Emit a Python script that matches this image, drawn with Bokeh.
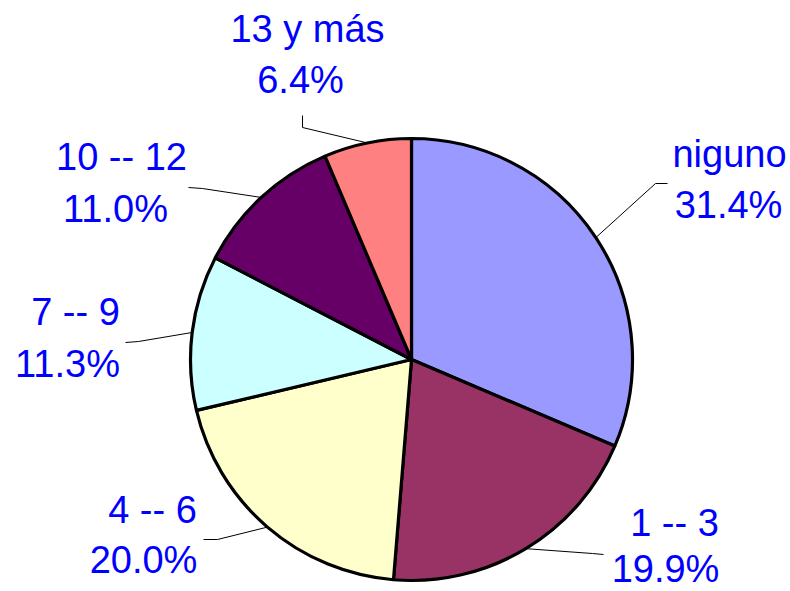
import math
from bokeh.plotting import figure
from bokeh.models import Range1d, ColumnDataSource
from bokeh.core.properties import value
from bokeh.embed import file_html
from bokeh.resources import INLINE

# ---- data ----
categories = ["niguno", "1 -- 3", "4 -- 6", "7 -- 9", "10 -- 12", "13 y más"]
percents = [31.4, 19.9, 20.0, 11.3, 11.0, 6.4]
colors = ["#9999FF", "#993366", "#FFFFCC", "#CCFFFF", "#660066", "#FF8080"]

# ---- layout (image pixel coordinates) ----
W, H = 790, 591
CX, CY, R = 411, 359, 221
FONT = "38px"
BASE_FIX = 14  # renderer places alphabetic baseline lower than expected
# label line centers / baselines (x1, y1, x2, y2)
label_pos = [
    (729, 167, 728, 218),
    (674, 536, 665, 582),
    (152, 523, 143, 573),
    (75, 325, 67, 377),
    (121, 170, 115, 222),
    (307, 42, 300, 93),
]
# leader elbow and end points
leader_pts = [
    ((655, 183), (667, 183)),
    ((592, 553), (603, 554)),
    ((217, 539), (203, 539)),
    ((138, 341), (125, 342)),
    ((202, 188), (188, 187)),
    ((302, 127), (302, 115)),
]

def Y(img_y):
    return H - img_y

p = figure(width=W, height=H, output_backend="svg", toolbar_location=None,
           x_range=Range1d(0, W), y_range=Range1d(0, H),
           x_axis_location=None, y_axis_location=None, min_border=0)
p.grid.visible = False
p.outline_line_color = None
p.background_fill_color = "white"
p.border_fill_color = "white"

total = sum(percents)
starts, ends, mids = [], [], []
acc = 0.0
for v in percents:
    a0 = math.pi / 2 - 2 * math.pi * acc / total
    acc += v
    a1 = math.pi / 2 - 2 * math.pi * acc / total
    starts.append(a0)
    ends.append(a1)
    mids.append((a0 + a1) / 2)

src = ColumnDataSource(dict(x=[CX] * len(percents), y=[Y(CY)] * len(percents),
                            start=starts, end=ends, color=colors))
p.wedge(x="x", y="y", radius=R, start_angle="start", end_angle="end",
        direction="clock", fill_color="color", line_color="black",
        line_width=3.2, source=src)

# leader lines
for m, (elb, end) in zip(mids, leader_pts):
    ex = CX + R * math.cos(m)
    ey = Y(CY) + R * math.sin(m)
    p.line([ex, elb[0], end[0]], [ey, Y(elb[1]), Y(end[1])],
           line_color="black", line_width=1)

# labels
for cat, v, (x1, y1, x2, y2) in zip(categories, percents, label_pos):
    p.text(x=[x1], y=[Y(y1 - BASE_FIX)], text=[cat], text_align="center",
           text_baseline="alphabetic", text_font=value("Liberation Sans"),
           text_font_size=FONT, text_color="#0000FF")
    p.text(x=[x2], y=[Y(y2 - BASE_FIX)], text=[f"{v:.1f}%"], text_align="center",
           text_baseline="alphabetic", text_font=value("Liberation Sans"),
           text_font_size=FONT, text_color="#0000FF")

open("out.html", "w").write(file_html(p, INLINE))
